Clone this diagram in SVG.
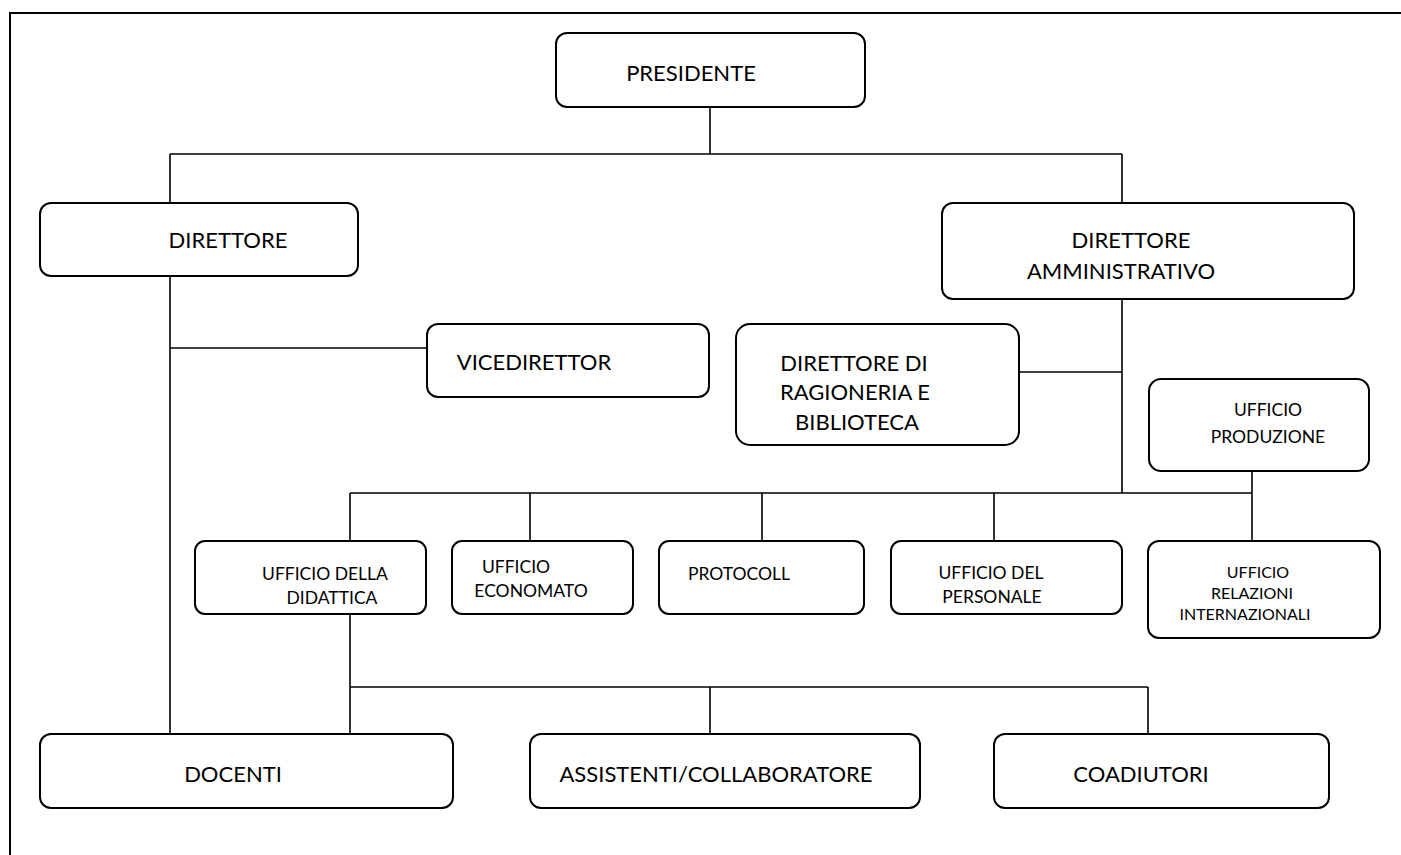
<svg xmlns="http://www.w3.org/2000/svg" width="1401" height="855" viewBox="0 0 1401 855">
<style>
.box{fill:#fff;stroke:#000;stroke-width:2}
.ln{fill:none;stroke:#000;stroke-width:1.6}
text{font-family:Lato,"Liberation Sans",sans-serif;fill:#000;text-anchor:middle}
.L{font-size:22px}
.M{font-size:17.5px}
.S{font-size:16px}
</style>
<rect width="1401" height="855" fill="#fff"/>
<path d="M10,855 V13 H1401" fill="none" stroke="#000" stroke-width="2"/>
<g id="connectors">
<path class="ln" d="M710,107 V154 M170,154 H1122 M170,154 V203 M1122,154 V203"/>
<path class="ln" d="M170,276 V734 M170,348 H427"/>
<path class="ln" d="M1122,299 V493 M1019,372 H1122"/>
<path class="ln" d="M350,493 H1252 M1252,471 V541 M350,493 V541 M530,493 V541 M762,493 V541 M994,493 V541"/>
<path class="ln" d="M350,614 V734 M350,687 H1148 M710,687 V734 M1148,687 V734"/>
</g>
<g id="presidente"><rect class="box" x="556" y="33" width="309" height="74" rx="11"/><text class="L" x="691" y="81">PRESIDENTE</text></g>
<g id="direttore"><rect class="box" x="40" y="203" width="318" height="73" rx="11"/><text class="L" x="228" y="248">DIRETTORE</text></g>
<g id="direttore-amministrativo"><rect class="box" x="942" y="203" width="412" height="96" rx="11"/><text class="L" x="1131" y="248">DIRETTORE</text><text class="L" x="1121" y="279">AMMINISTRATIVO</text></g>
<g id="vicedirettor"><rect class="box" x="427" y="324" width="282" height="73" rx="11"/><text class="L" x="534" y="370">VICEDIRETTOR</text></g>
<g id="ragioneria"><rect class="box" x="736" y="324" width="283" height="121" rx="14"/><text class="L" x="854" y="371">DIRETTORE DI</text><text class="L" x="855" y="400">RAGIONERIA E</text><text class="L" x="857" y="430">BIBLIOTECA</text></g>
<g id="produzione"><rect class="box" x="1149" y="379" width="220" height="92" rx="12"/><text class="M" x="1268" y="416">UFFICIO</text><text class="M" x="1268" y="443">PRODUZIONE</text></g>
<g id="didattica"><rect class="box" x="195" y="541" width="231" height="73" rx="10"/><text class="M" x="325" y="580">UFFICIO DELLA</text><text class="M" x="332" y="604">DIDATTICA</text></g>
<g id="economato"><rect class="box" x="452" y="541" width="181" height="73" rx="10"/><text class="M" x="516" y="573">UFFICIO</text><text class="M" x="531" y="597">ECONOMATO</text></g>
<g id="protocoll"><rect class="box" x="659" y="541" width="205" height="73" rx="10"/><text class="M" x="739" y="580">PROTOCOLL</text></g>
<g id="personale"><rect class="box" x="891" y="541" width="231" height="73" rx="10"/><text class="M" x="991" y="579">UFFICIO DEL</text><text class="M" x="992" y="603">PERSONALE</text></g>
<g id="relazioni"><rect class="box" x="1148" y="541" width="232" height="97" rx="11"/><text class="S" x="1258" y="578">UFFICIO</text><text class="S" x="1252" y="599">RELAZIONI</text><text class="S" x="1245" y="620">INTERNAZIONALI</text></g>
<g id="docenti"><rect class="box" x="40" y="734" width="413" height="74" rx="11"/><text class="L" x="233" y="782">DOCENTI</text></g>
<g id="assistenti"><rect class="box" x="530" y="734" width="390" height="74" rx="11"/><text class="L" x="716" y="782">ASSISTENTI/COLLABORATORE</text></g>
<g id="coadiutori"><rect class="box" x="994" y="734" width="335" height="74" rx="11"/><text class="L" x="1141" y="782">COADIUTORI</text></g>
</svg>
